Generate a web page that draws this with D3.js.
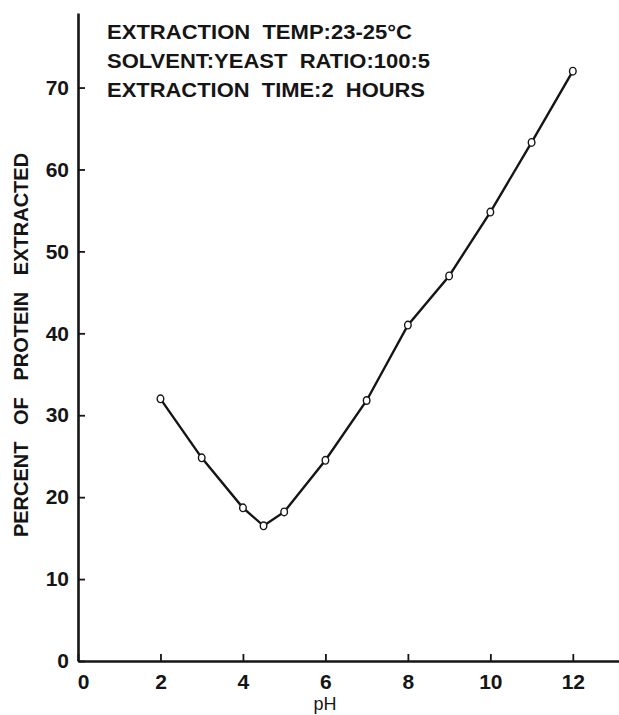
<!DOCTYPE html>
<html>
<head>
<meta charset="utf-8">
<script src="https://cdn.jsdelivr.net/npm/d3@7"></script>
<style>
  html, body { margin: 0; padding: 0; background: #fff; }
  svg { display: block; }
  text { font-family: "Liberation Sans", Arial, Helvetica, sans-serif; fill: #151515; white-space: pre; }
</style>
</head>
<body>
<svg id="chart" width="619" height="715"></svg>
<script>
// Protein extraction vs pH
const phValues = [2, 3, 4, 4.5, 5, 6, 7, 8, 9, 10, 11, 12];
const percentExtracted = [32, 24.8, 18.7, 16.5, 18.2, 24.5, 31.8, 41, 47, 54.8, 63.3, 72];
const xTicks = [0, 2, 4, 6, 8, 10, 12];
const yTicks = [0, 10, 20, 30, 40, 50, 60, 70];
const conditions = [
  "EXTRACTION  TEMP:23-25\u00B0C",
  "SOLVENT:YEAST  RATIO:100:5",
  "EXTRACTION  TIME:2  HOURS"
];

const svg = d3.select("#chart");
const x = d3.scaleLinear().domain([0, 13.12]).range([78, 619]);
const y = d3.scaleLinear().domain([0, 79.1]).range([661, 13]);

const ink = "#151515";
const font = "'Liberation Sans', Arial, sans-serif";

// y axis
const yAxis = svg.append("g")
  .attr("transform", `translate(${x(0)},0)`)
  .call(d3.axisLeft(y).tickValues(yTicks).tickSizeInner(-7).tickSizeOuter(0).tickPadding(9));
yAxis.select(".domain").attr("stroke", ink).attr("stroke-width", 2.6);
yAxis.selectAll(".tick line").attr("stroke", ink).attr("stroke-width", 1.8);
yAxis.selectAll(".tick text")
  .attr("font-size", 21).attr("font-weight", "bold")
  .attr("font-family", font).attr("fill", ink);

// x axis
const xAxis = svg.append("g")
  .attr("transform", `translate(0,${y(0)})`)
  .call(d3.axisBottom(x).tickValues(xTicks).tickSizeInner(-7).tickSizeOuter(0).tickPadding(13));
xAxis.select(".domain").attr("stroke", ink).attr("stroke-width", 2.6);
xAxis.selectAll(".tick line").attr("stroke", ink).attr("stroke-width", 1.8);
xAxis.selectAll(".tick text")
  .attr("font-size", 21).attr("font-weight", "bold")
  .attr("font-family", font).attr("fill", ink);
xAxis.selectAll(".tick").filter(d => d === 0).select("text").attr("dx", 5);

// axis titles
svg.append("text")
  .attr("x", 325).attr("y", 710)
  .attr("text-anchor", "middle")
  .attr("font-size", 18)
  .text("pH");

svg.append("text")
  .attr("transform", "translate(28,345) rotate(-90)")
  .attr("text-anchor", "middle")
  .attr("font-size", 20).attr("font-weight", "bold")
  .style("word-spacing", "11px")
  .text("PERCENT OF PROTEIN EXTRACTED");

// experimental conditions
const condWidths = [305, 323, 318];
svg.append("g").selectAll("text")
  .data(conditions)
  .join("text")
  .attr("x", 107)
  .attr("y", (d, i) => 39 + i * 29)
  .attr("font-size", 20).attr("font-weight", "bold")
  .attr("textLength", (d, i) => condWidths[i])
  .attr("lengthAdjust", "spacingAndGlyphs")
  .text(d => d);

// data line
const pts = phValues.map((p, i) => ({ ph: p, pct: percentExtracted[i] }));
svg.append("path")
  .datum(pts)
  .attr("fill", "none")
  .attr("stroke", ink)
  .attr("stroke-width", 2.4)
  .attr("d", d3.line().x(d => x(d.ph)).y(d => y(d.pct)));

// open circle markers
svg.append("g").selectAll("ellipse")
  .data(pts)
  .join("ellipse")
  .attr("cx", d => x(d.ph))
  .attr("cy", d => y(d.pct))
  .attr("rx", 3.3).attr("ry", 3.8)
  .attr("fill", "#fff")
  .attr("stroke", ink)
  .attr("stroke-width", 1.4);
</script>
</body>
</html>
